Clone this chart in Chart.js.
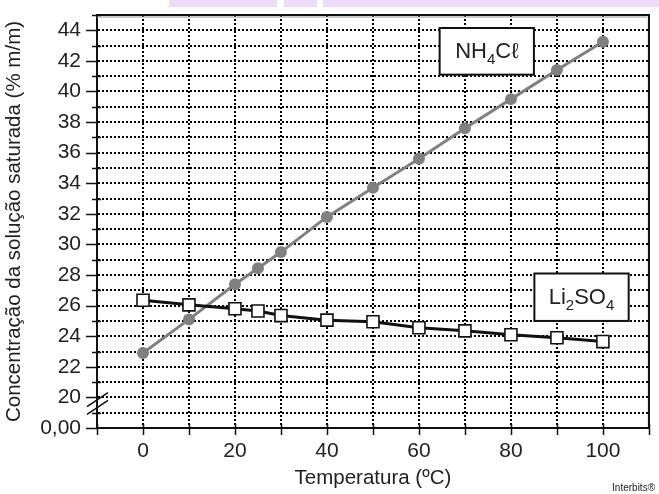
<!DOCTYPE html>
<html>
<head>
<meta charset="utf-8">
<script src="https://cdn.jsdelivr.net/npm/chart.js@4"></script>
<style>
  html, body { margin: 0; padding: 0; background: #fff; }
  #wrap { width: 659px; height: 494px; }
</style>
</head>
<body>
<div id="wrap"><canvas id="chart" width="659" height="494"></canvas></div>
<script>
// temperatures (ºC)
const temperatures = [0, 10, 20, 25, 30, 40, 50, 60, 70, 80, 90, 100];
// concentrations (% m/m)
const nh4clValues = [22.9, 25.1, 27.4, 28.45, 29.5, 31.8, 33.7, 35.6, 37.6, 39.5, 41.4, 43.25];
const li2so4Values = [26.35, 26.05, 25.8, 25.65, 25.35, 25.05, 24.95, 24.55, 24.35, 24.1, 23.9, 23.65];
const xTickLabels = [0, 20, 40, 60, 80, 100];
const yTickLabels = [20, 22, 24, 26, 28, 30, 32, 34, 36, 38, 40, 42, 44];
const yBreakLabel = '0,00';

const FONT = "'Liberation Sans', Arial, sans-serif";

function points(values) {
    return temperatures.map((t, i) => ({ x: t, y: values[i] }));
}

// tick marks, frame, axis break, labels
const extras = {
    id: 'extras',
    beforeDraw(chart) {
        const ctx = chart.ctx;
        ctx.save();
        ctx.fillStyle = '#ecdcf8';
        ctx.fillRect(169, 0, 108, 7);
        ctx.fillRect(284, 0, 33, 7);
        ctx.fillRect(323, 0, 336, 7);
        ctx.restore();
    },
    afterDatasetsDraw(chart) {
        const ctx = chart.ctx;
        const x = chart.scales.x;
        const y = chart.scales.y;
        const a = chart.chartArea;
        ctx.save();
        ctx.strokeStyle = '#111';
        ctx.lineWidth = 2;

        // frame
        ctx.beginPath();
        ctx.moveTo(a.left, a.top);
        ctx.lineTo(a.right, a.top);
        ctx.lineTo(a.right, a.bottom);
        ctx.stroke();
        ctx.strokeStyle = '#999';
        ctx.lineWidth = 1;
        ctx.beginPath();
        ctx.moveTo(a.left, a.top + 2);
        ctx.lineTo(a.right - 2, a.top + 2);
        ctx.stroke();

        // y tick marks
        ctx.strokeStyle = '#111';
        ctx.lineWidth = 1.5;
        for (let v = y.min; v <= y.max; v++) {
            const py = Math.round(y.getPixelForValue(v)) + 0.5;
            ctx.beginPath();
            if (v % 2 === 0) {
                ctx.moveTo(a.left - 11, py);
                ctx.lineTo(a.left, py);
            } else {
                ctx.moveTo(a.left - 5, py);
                ctx.lineTo(a.left + 4, py);
            }
            ctx.stroke();
        }
        // x tick marks
        for (let v = x.min; v <= x.max; v += 10) {
            const px = Math.round(x.getPixelForValue(v)) + 0.5;
            ctx.beginPath();
            ctx.moveTo(px, a.bottom - 4);
            ctx.lineTo(px, a.bottom + 7);
            ctx.stroke();
        }

        // axis break
        ctx.lineWidth = 1.6;
        [19.85, 19.35].forEach(v => {
            const py = y.getPixelForValue(v);
            ctx.beginPath();
            ctx.moveTo(a.left - 10, py + 7);
            ctx.lineTo(a.left + 11, py - 7);
            ctx.stroke();
        });

        // series labels
        drawLabel(ctx, x, y, 64.5, 85, 44.15, 41.1,
            [['NH', 0], ['4', 1], ['C', 0], ['\u2113', 0]]);
        drawLabel(ctx, x, y, 85.1, 105.6, 28.1, 25.0,
            [['Li', 0], ['2', 1], ['SO', 0], ['4', 1]]);

        ctx.fillStyle = '#222';
        ctx.font = '10px ' + FONT;
        ctx.textAlign = 'right';
        ctx.textBaseline = 'alphabetic';
        ctx.fillText('Interbits\u00ae', 655, 491);
        ctx.restore();
    }
};

function drawLabel(ctx, x, y, x0, x1, y0, y1, parts) {
    const l = x.getPixelForValue(x0), r = x.getPixelForValue(x1);
    const t = y.getPixelForValue(y0), b = y.getPixelForValue(y1);
    ctx.fillStyle = '#fff';
    ctx.fillRect(l, t, r - l, b - t);
    ctx.strokeStyle = '#111';
    ctx.lineWidth = 2;
    ctx.strokeRect(l, t, r - l, b - t);
    const big = '22px ' + FONT, small = '15px ' + FONT;
    let w = 0;
    parts.forEach(p => { ctx.font = p[1] ? small : big; w += ctx.measureText(p[0]).width; });
    let cx = (l + r) / 2 - w / 2;
    const base = (t + b) / 2 + 7;
    ctx.fillStyle = '#222';
    ctx.textAlign = 'left';
    ctx.textBaseline = 'alphabetic';
    parts.forEach(p => {
        ctx.font = p[1] ? small : big;
        ctx.fillText(p[0], cx, base + (p[1] ? 6 : 0));
        cx += ctx.measureText(p[0]).width;
    });
}

function noPad(s) {
    s.paddingTop = 0;
    s.paddingBottom = 0;
    s.paddingLeft = 0;
    s.paddingRight = 0;
}

const ctx = document.getElementById('chart').getContext('2d');
new Chart(ctx, {
    type: 'line',
    data: {
        datasets: [{
            label: 'Li2SO4',
            data: points(li2so4Values),
            borderColor: '#111',
            borderWidth: 3,
            pointStyle: 'rect',
            pointRadius: 8.5,
            pointBackgroundColor: '#fff',
            pointBorderColor: '#111',
            pointBorderWidth: 1.6,
            tension: 0
        }, {
            label: 'NH4Cl',
            data: points(nh4clValues),
            borderColor: '#808080',
            borderWidth: 3,
            pointStyle: 'circle',
            pointRadius: 6,
            pointBackgroundColor: '#808080',
            pointBorderWidth: 0,
            tension: 0
        }]
    },
    options: {
        responsive: false,
        animation: false,
        layout: { padding: { top: 15, right: 1, left: 0, bottom: 0 } },
        plugins: { legend: { display: false }, tooltip: { enabled: false } },
        scales: {
            x: {
                type: 'linear',
                min: -10,
                max: 110,
                afterFit: s => { s.height = 66; noPad(s); },
                // in v4 the grid line dash lives in border.dash
                border: { color: '#111', width: 2, dash: [2, 2] },
                grid: { color: '#000', lineWidth: 2, drawTicks: false },
                ticks: {
                    stepSize: 10,
                    padding: 11,
                    color: '#222',
                    font: { family: FONT, size: 21 },
                    callback: v => xTickLabels.includes(v) ? String(v) : ''
                },
                title: {
                    display: true,
                    text: 'Temperatura (ºC)',
                    color: '#222',
                    font: { family: FONT, size: 20.5 },
                    padding: { top: 0, bottom: 3 }
                }
            },
            y: {
                min: 18,
                max: 45,
                afterFit: s => { s.width = 97; noPad(s); },
                border: { color: '#111', width: 2, dash: [2, 2] },
                grid: { color: '#000', lineWidth: 2, drawTicks: false },
                ticks: {
                    stepSize: 1,
                    autoSkip: false,
                    padding: 16,
                    color: '#222',
                    font: { family: FONT, size: 21 },
                    callback: v => v === 18 ? yBreakLabel : (yTickLabels.includes(v) ? String(v) : '')
                },
                title: {
                    display: true,
                    text: 'Concentração da solução saturada (% m/m)',
                    color: '#222',
                    font: { family: FONT, size: 20.5 },
                    padding: { top: 2, bottom: 0 }
                }
            }
        }
    },
    plugins: [extras]
});
</script>
</body>
</html>
